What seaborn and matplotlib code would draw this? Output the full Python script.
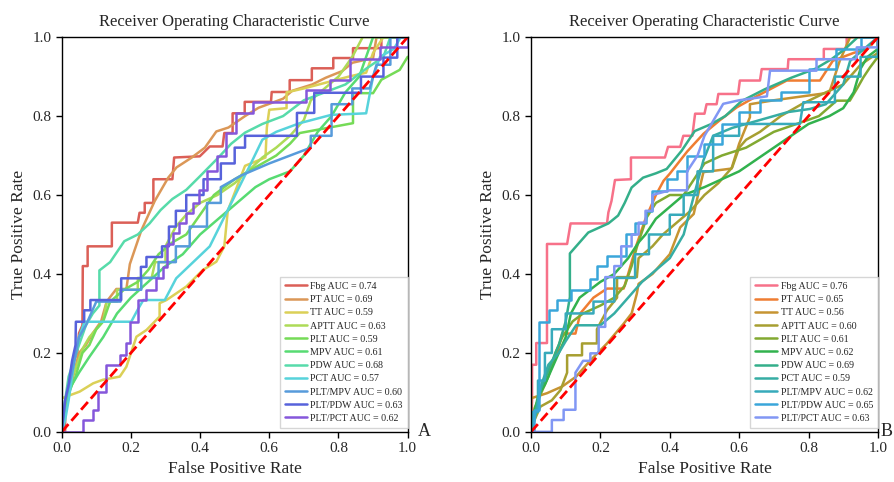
import pandas as pd
import seaborn as sns
import matplotlib.pyplot as plt

labels = ['Fbg', 'PT', 'TT', 'APTT', 'PLT', 'MPV', 'PDW', 'PCT', 'PLT/MPV', 'PLT/PDW', 'PLT/PCT']
auc_a = [0.74, 0.69, 0.59, 0.63, 0.59, 0.61, 0.68, 0.57, 0.60, 0.63, 0.62]
auc_b = [0.76, 0.65, 0.56, 0.60, 0.61, 0.62, 0.69, 0.59, 0.62, 0.65, 0.63]

# panel A curves, (fpr, tpr)
fbg_a = [(0, 0), (0.01, 0), (0.01, 0.06), (0.02, 0.1), (0.03, 0.17), (0.045, 0.2), (0.05, 0.25), (0.06, 0.27),
         (0.061, 0.42), (0.075, 0.42), (0.075, 0.47), (0.145, 0.47), (0.145, 0.53), (0.22, 0.53), (0.225, 0.555),
         (0.24, 0.555), (0.24, 0.58), (0.265, 0.58), (0.265, 0.64), (0.32, 0.64), (0.325, 0.695), (0.399, 0.698),
         (0.428, 0.723), (0.465, 0.723), (0.47, 0.757), (0.494, 0.757), (0.494, 0.807), (0.529, 0.807),
         (0.529, 0.836), (0.605, 0.836), (0.607, 0.861), (0.659, 0.861), (0.659, 0.891), (0.723, 0.891),
         (0.723, 0.921), (0.785, 0.921), (0.785, 0.947), (0.842, 0.947), (0.842, 0.972), (0.924, 0.972),
         (0.924, 1.0), (1.0, 1.0)]
pt_a = [(0, 0), (0.01, 0.05), (0.015, 0.1), (0.03, 0.13), (0.05, 0.2), (0.07, 0.22), (0.09, 0.25), (0.114, 0.28),
        (0.13, 0.33), (0.158, 0.362), (0.187, 0.362), (0.197, 0.425), (0.23, 0.51), (0.269, 0.585), (0.308, 0.644),
        (0.332, 0.67), (0.376, 0.695), (0.414, 0.72), (0.447, 0.761), (0.482, 0.771), (0.53, 0.80), (0.569, 0.821),
        (0.64, 0.844), (0.666, 0.864), (0.724, 0.88), (0.763, 0.897), (0.811, 0.914), (0.84, 0.935), (0.9, 0.947),
        (0.91, 1.0), (1, 1)]
tt_a = [(0, 0), (0, 0.085), (0.052, 0.102), (0.091, 0.123), (0.119, 0.132), (0.168, 0.14), (0.187, 0.165),
        (0.216, 0.241), (0.245, 0.258), (0.283, 0.292), (0.283, 0.326), (0.303, 0.334), (0.36, 0.368),
        (0.408, 0.41), (0.447, 0.431), (0.47, 0.47), (0.48, 0.56), (0.53, 0.674), (0.589, 0.695), (0.593, 0.771),
        (0.60, 0.816), (0.65, 0.82), (0.65, 0.86), (0.70, 0.87), (0.83, 0.90), (0.88, 0.91), (0.9, 0.96),
        (0.93, 1.0), (1, 1)]
aptt_a = [(0, 0), (0.01, 0.06), (0.02, 0.12), (0.04, 0.16), (0.06, 0.21), (0.08, 0.24), (0.1, 0.26), (0.12, 0.28),
          (0.13, 0.33), (0.16, 0.33), (0.16, 0.36), (0.22, 0.36), (0.22, 0.39), (0.26, 0.39), (0.27, 0.43),
          (0.3, 0.43), (0.3, 0.47), (0.33, 0.52), (0.36, 0.55), (0.4, 0.58), (0.45, 0.6), (0.5, 0.63), (0.55, 0.67),
          (0.58, 0.695), (0.62, 0.72), (0.66, 0.75), (0.7, 0.79), (0.72, 0.84), (0.76, 0.87), (0.8, 0.9),
          (0.84, 0.95), (0.87, 1.0), (1, 1)]
plt_a = [(0, 0), (0.01, 0.05), (0.02, 0.1), (0.04, 0.14), (0.06, 0.2), (0.08, 0.22), (0.1, 0.26), (0.12, 0.28),
         (0.14, 0.33), (0.18, 0.36), (0.22, 0.38), (0.25, 0.41), (0.28, 0.45), (0.32, 0.48), (0.36, 0.5),
         (0.4, 0.55), (0.44, 0.6), (0.5, 0.64), (0.56, 0.67), (0.62, 0.7), (0.66, 0.73), (0.688, 0.757),
         (0.842, 0.782), (0.842, 0.858), (0.9, 0.858), (0.924, 0.892), (0.977, 0.917), (1.0, 0.95)]
mpv_a = [(0, 0), (0.01, 0.07), (0.03, 0.12), (0.05, 0.15), (0.08, 0.19), (0.12, 0.24), (0.16, 0.3), (0.2, 0.34),
         (0.25, 0.38), (0.3, 0.42), (0.35, 0.45), (0.4, 0.5), (0.44, 0.53), (0.48, 0.56), (0.52, 0.59),
         (0.56, 0.62), (0.6, 0.64), (0.66, 0.66), (0.7, 0.7), (0.74, 0.76), (0.78, 0.8), (0.82, 0.86),
         (0.86, 0.9), (0.88, 0.95), (0.9, 1.0), (1, 1)]
pdw_a = [(0, 0), (0.01, 0.08), (0.02, 0.14), (0.033, 0.174), (0.05, 0.22), (0.07, 0.27), (0.09, 0.3),
         (0.109, 0.32), (0.109, 0.409), (0.14, 0.43), (0.181, 0.483), (0.22, 0.5), (0.254, 0.528), (0.286, 0.562),
         (0.32, 0.59), (0.36, 0.613), (0.399, 0.647), (0.453, 0.695), (0.49, 0.73), (0.53, 0.758), (0.58, 0.78),
         (0.64, 0.80), (0.7, 0.84), (0.76, 0.86), (0.82, 0.88), (0.88, 0.92), (0.93, 0.95), (0.95, 1.0), (1, 1)]
pct_a = [(0, 0), (0.01, 0.03), (0.02, 0.08), (0.03, 0.14), (0.04, 0.2), (0.05, 0.24), (0.066, 0.279),
         (0.201, 0.279), (0.22, 0.31), (0.236, 0.334), (0.298, 0.334), (0.331, 0.389), (0.428, 0.47),
         (0.543, 0.673), (0.58, 0.74), (0.62, 0.76), (0.688, 0.782), (0.779, 0.803), (0.88, 0.807), (0.90, 0.90),
         (0.92, 0.95), (0.96, 0.97), (0.98, 1.0), (1, 1)]
pltmpv_a = [(0, 0), (0.01, 0.08), (0.03, 0.15), (0.05, 0.24), (0.07, 0.27), (0.09, 0.31), (0.1, 0.33),
            (0.17, 0.33), (0.17, 0.36), (0.23, 0.36), (0.23, 0.39), (0.28, 0.39), (0.28, 0.43), (0.33, 0.43),
            (0.33, 0.47), (0.37, 0.47), (0.37, 0.52), (0.42, 0.52), (0.42, 0.58), (0.46, 0.58), (0.46, 0.62),
            (0.52, 0.65), (0.6, 0.68), (0.66, 0.7), (0.72, 0.72), (0.72, 0.75), (0.78, 0.75), (0.78, 0.83),
            (0.84, 0.83), (0.84, 0.87), (0.89, 0.87), (0.91, 0.93), (0.95, 0.93), (0.95, 1.0), (1, 1)]
pltpdw_a = [(0, 0), (0.005, 0.04), (0.01, 0.08), (0.02, 0.12), (0.03, 0.18), (0.04, 0.22), (0.041, 0.279),
            (0.065, 0.279), (0.065, 0.308), (0.083, 0.308), (0.083, 0.334), (0.172, 0.334), (0.172, 0.389),
            (0.229, 0.389), (0.229, 0.418), (0.245, 0.418), (0.245, 0.443), (0.29, 0.443), (0.29, 0.47),
            (0.31, 0.47), (0.31, 0.52), (0.33, 0.52), (0.33, 0.56), (0.36, 0.56), (0.36, 0.6), (0.41, 0.6),
            (0.41, 0.64), (0.46, 0.64), (0.46, 0.68), (0.5, 0.68), (0.5, 0.72), (0.53, 0.72), (0.53, 0.75),
            (0.68, 0.75), (0.68, 0.808), (0.73, 0.808), (0.73, 0.859), (0.865, 0.859), (0.865, 0.9), (0.93, 0.9),
            (0.93, 0.948), (0.97, 0.948), (0.97, 1.0), (1, 1)]
pltpct_a = [(0, 0), (0.062, 0), (0.062, 0.03), (0.091, 0.03), (0.091, 0.055), (0.106, 0.055), (0.106, 0.1),
            (0.129, 0.1), (0.129, 0.17), (0.168, 0.17), (0.168, 0.194), (0.187, 0.194), (0.187, 0.224),
            (0.197, 0.224), (0.197, 0.279), (0.221, 0.279), (0.221, 0.334), (0.245, 0.334), (0.245, 0.359),
            (0.274, 0.359), (0.274, 0.389), (0.293, 0.389), (0.293, 0.418), (0.303, 0.418), (0.303, 0.477),
            (0.322, 0.477), (0.322, 0.503), (0.34, 0.503), (0.34, 0.528), (0.36, 0.528), (0.36, 0.554),
            (0.379, 0.554), (0.379, 0.579), (0.398, 0.579), (0.398, 0.613), (0.42, 0.613), (0.42, 0.66),
            (0.45, 0.66), (0.45, 0.70), (0.476, 0.70), (0.476, 0.757), (0.505, 0.757), (0.505, 0.807),
            (0.553, 0.807), (0.553, 0.836), (0.707, 0.836), (0.707, 0.866), (0.775, 0.866), (0.775, 0.892),
            (0.832, 0.892), (0.832, 0.944), (0.92, 0.944), (0.92, 0.975), (1.0, 0.975), (1, 1)]

# panel B curves
fbg_b = [(0, 0), (0.003, 0.08), (0.003, 0.17), (0.015, 0.17), (0.015, 0.225), (0.046, 0.225), (0.046, 0.476),
         (0.104, 0.476), (0.114, 0.528), (0.219, 0.528), (0.223, 0.556), (0.232, 0.585), (0.242, 0.638),
         (0.288, 0.64), (0.288, 0.695), (0.386, 0.695), (0.395, 0.722), (0.43, 0.722), (0.439, 0.75),
         (0.465, 0.75), (0.473, 0.806), (0.50, 0.806), (0.506, 0.83), (0.535, 0.83), (0.54, 0.856), (0.597, 0.856),
         (0.602, 0.89), (0.66, 0.89), (0.665, 0.919), (0.74, 0.919), (0.742, 0.944), (0.844, 0.944),
         (0.844, 0.97), (0.91, 0.97), (0.91, 1.0), (1, 1)]
pt_b = [(0, 0), (0.01, 0.04), (0.02, 0.08), (0.035, 0.12), (0.046, 0.148), (0.075, 0.199), (0.09, 0.249),
        (0.128, 0.249), (0.142, 0.30), (0.18, 0.34), (0.219, 0.363), (0.267, 0.363), (0.28, 0.40), (0.305, 0.476),
        (0.33, 0.54), (0.36, 0.6), (0.382, 0.636), (0.40, 0.654), (0.45, 0.71), (0.497, 0.755), (0.545, 0.79),
        (0.593, 0.822), (0.65, 0.85), (0.737, 0.89), (0.833, 0.89), (0.87, 0.94), (0.93, 0.96), (0.97, 0.97),
        (1.0, 1.0)]
tt_b = [(0, 0), (0, 0.085), (0.046, 0.098), (0.09, 0.115), (0.13, 0.14), (0.17, 0.18), (0.219, 0.224),
        (0.267, 0.274), (0.29, 0.30), (0.305, 0.35), (0.31, 0.375), (0.35, 0.40), (0.40, 0.45), (0.43, 0.518),
        (0.469, 0.552), (0.478, 0.587), (0.497, 0.658), (0.578, 0.667), (0.60, 0.73), (0.631, 0.797),
        (0.631, 0.83), (0.70, 0.84), (0.833, 0.856), (0.86, 0.86), (0.89, 0.94), (0.92, 1.0), (1, 1)]
aptt_b = [(0, 0), (0.01, 0.03), (0.027, 0.064), (0.06, 0.08), (0.085, 0.106), (0.104, 0.15), (0.104, 0.194),
          (0.147, 0.194), (0.147, 0.224), (0.19, 0.224), (0.19, 0.26), (0.219, 0.308), (0.248, 0.34),
          (0.248, 0.392), (0.305, 0.392), (0.31, 0.44), (0.35, 0.47), (0.38, 0.5), (0.42, 0.53), (0.46, 0.56),
          (0.5, 0.6), (0.54, 0.63), (0.58, 0.67), (0.6, 0.72), (0.62, 0.74), (0.66, 0.76), (0.72, 0.80),
          (0.78, 0.83), (0.85, 0.86), (0.9, 0.88), (0.95, 0.93), (1, 0.96), (1, 1)]
plt_b = [(0, 0), (0.01, 0.06), (0.03, 0.1), (0.05, 0.14), (0.07, 0.2), (0.09, 0.24), (0.12, 0.28), (0.15, 0.3),
         (0.2, 0.32), (0.24, 0.34), (0.27, 0.37), (0.29, 0.42), (0.305, 0.468), (0.334, 0.544), (0.36, 0.58),
         (0.4, 0.6), (0.44, 0.6), (0.47, 0.64), (0.5, 0.68), (0.55, 0.70), (0.62, 0.72), (0.7, 0.76),
         (0.795, 0.789), (0.83, 0.80), (0.881, 0.839), (0.919, 0.839), (0.94, 0.87), (0.958, 0.898),
         (0.977, 0.923), (1, 0.95), (1, 1)]
mpv_b = [(0, 0), (0.01, 0.05), (0.02, 0.09), (0.04, 0.12), (0.06, 0.16), (0.08, 0.2), (0.1, 0.24), (0.115, 0.3),
         (0.14, 0.34), (0.17, 0.36), (0.2, 0.38), (0.24, 0.4), (0.28, 0.44), (0.31, 0.48), (0.33, 0.5),
         (0.36, 0.54), (0.4, 0.57), (0.44, 0.6), (0.5, 0.62), (0.55, 0.64), (0.6, 0.66), (0.65, 0.69),
         (0.7, 0.72), (0.75, 0.75), (0.8, 0.78), (0.86, 0.8), (0.9, 0.82), (0.93, 0.86), (0.95, 0.92),
         (0.97, 0.95), (1, 0.97), (1, 1)]
pdw_b = [(0, 0), (0.01, 0.04), (0.026, 0.105), (0.05, 0.156), (0.08, 0.22), (0.1, 0.28), (0.112, 0.341),
         (0.112, 0.452), (0.136, 0.476), (0.165, 0.505), (0.223, 0.528), (0.251, 0.548), (0.27, 0.58),
         (0.29, 0.619), (0.323, 0.644), (0.36, 0.655), (0.391, 0.666), (0.434, 0.712), (0.472, 0.762),
         (0.52, 0.78), (0.56, 0.80), (0.607, 0.838), (0.674, 0.868), (0.75, 0.897), (0.82, 0.92), (0.866, 0.944),
         (0.904, 0.969), (0.942, 1.0), (1, 1)]
pct_b = [(0, 0), (0.01, 0.03), (0.02, 0.07), (0.03, 0.12), (0.05, 0.17), (0.08, 0.2), (0.1, 0.23), (0.13, 0.27),
         (0.2, 0.27), (0.24, 0.3), (0.28, 0.34), (0.32, 0.38), (0.36, 0.41), (0.4, 0.44), (0.44, 0.5),
         (0.47, 0.6), (0.497, 0.688), (0.525, 0.75), (0.58, 0.77), (0.66, 0.79), (0.74, 0.81), (0.804, 0.818),
         (0.85, 0.83), (0.9, 0.88), (0.92, 0.94), (0.96, 0.97), (1, 1)]
pltmpv_b = [(0, 0), (0.005, 0.05), (0.02, 0.05), (0.02, 0.13), (0.04, 0.13), (0.04, 0.2), (0.06, 0.2),
            (0.06, 0.26), (0.1, 0.26), (0.1, 0.3), (0.18, 0.3), (0.18, 0.33), (0.24, 0.33), (0.24, 0.39),
            (0.3, 0.39), (0.3, 0.45), (0.34, 0.45), (0.34, 0.5), (0.4, 0.5), (0.4, 0.55), (0.44, 0.55),
            (0.44, 0.6), (0.48, 0.6), (0.48, 0.66), (0.525, 0.66), (0.525, 0.75), (0.6, 0.75), (0.6, 0.78),
            (0.775, 0.78), (0.785, 0.835), (0.876, 0.835), (0.876, 0.9), (0.95, 0.9), (0.95, 0.95), (1, 0.95),
            (1, 1)]
pltpdw_b = [(0, 0), (0.008, 0), (0.008, 0.056), (0.022, 0.056), (0.022, 0.279), (0.051, 0.279), (0.051, 0.308),
            (0.075, 0.308), (0.075, 0.333), (0.114, 0.333), (0.114, 0.36), (0.171, 0.36), (0.171, 0.388),
            (0.19, 0.388), (0.19, 0.42), (0.219, 0.42), (0.219, 0.446), (0.274, 0.446), (0.274, 0.5), (0.3, 0.5),
            (0.3, 0.53), (0.33, 0.53), (0.33, 0.56), (0.349, 0.56), (0.349, 0.611), (0.392, 0.611),
            (0.392, 0.64), (0.42, 0.64), (0.42, 0.66), (0.45, 0.66), (0.45, 0.7), (0.5, 0.7), (0.5, 0.73),
            (0.55, 0.73), (0.55, 0.78), (0.6, 0.78), (0.6, 0.81), (0.66, 0.81), (0.66, 0.84), (0.72, 0.84),
            (0.72, 0.86), (0.8, 0.86), (0.8, 0.92), (0.88, 0.92), (0.88, 0.97), (0.95, 0.97), (0.95, 1.0), (1, 1)]
pltpct_b = [(0, 0), (0.06, 0), (0.06, 0.03), (0.094, 0.03), (0.094, 0.056), (0.128, 0.056), (0.128, 0.15),
            (0.15, 0.18), (0.171, 0.18), (0.171, 0.199), (0.195, 0.199), (0.195, 0.266), (0.214, 0.266),
            (0.214, 0.392), (0.24, 0.392), (0.24, 0.42), (0.26, 0.42), (0.26, 0.47), (0.29, 0.47), (0.29, 0.5),
            (0.31, 0.5), (0.31, 0.53), (0.33, 0.53), (0.33, 0.56), (0.35, 0.56), (0.35, 0.6), (0.4, 0.612),
            (0.45, 0.612), (0.45, 0.66), (0.48, 0.7), (0.5, 0.75), (0.52, 0.78), (0.554, 0.831), (0.6, 0.84),
            (0.68, 0.85), (0.689, 0.915), (0.823, 0.915), (0.823, 0.944), (0.939, 0.944), (0.939, 0.974),
            (1, 0.974), (1, 1)]

curves_a = [fbg_a, pt_a, tt_a, aptt_a, plt_a, mpv_a, pdw_a, pct_a, pltmpv_a, pltpdw_a, pltpct_a]
curves_b = [fbg_b, pt_b, tt_b, aptt_b, plt_b, mpv_b, pdw_b, pct_b, pltmpv_b, pltpdw_b, pltpct_b]


def to_frame(curves, aucs):
    rows = []
    for name, auc, pts in zip(labels, aucs, curves):
        lab = f'{name} AUC = {auc:.2f}'
        for i, (x, y) in enumerate(pts):
            rows.append({'label': lab, 'order': i, 'fpr': x, 'tpr': y})
    return pd.DataFrame(rows)


sns.set_style('ticks')
plt.rcParams['font.family'] = ['Liberation Serif', 'DejaVu Serif']

fig = plt.figure(figsize=(8.94, 4.82), dpi=100)
ax_a = fig.add_axes([0.069, 0.104, 0.387, 0.819])
ax_b = fig.add_axes([0.594, 0.104, 0.388, 0.819])

panels = [(ax_a, curves_a, auc_a, sns.color_palette('hls', 14)[:11], 'A', 1.03),
          (ax_b, curves_b, auc_b, sns.color_palette('husl', 14)[:11], 'B', 1.008)]

for ax, curves, aucs, pal, tag, tag_x in panels:
    df = to_frame(curves, aucs)
    order = list(dict.fromkeys(df['label']))
    sns.lineplot(data=df, x='fpr', y='tpr', hue='label', hue_order=order, palette=pal,
                 estimator=None, sort=False, linewidth=1.8, ax=ax)
    ax.plot([0, 1], [0, 1], color='red', linestyle='--', linewidth=2)
    ax.set_xlim(0, 1)
    ax.set_ylim(0, 1)
    ax.set_xticks([0, 0.2, 0.4, 0.6, 0.8, 1.0])
    ax.set_yticks([0, 0.2, 0.4, 0.6, 0.8, 1.0])
    ax.tick_params(labelsize=11, length=4, width=1, color='black')
    for s in ax.spines.values():
        s.set_color('black')
        s.set_linewidth(1)
    ax.set_title('Receiver Operating Characteristic Curve', fontsize=12, pad=8)
    ax.set_xlabel('False Positive Rate', fontsize=12.5)
    ax.set_ylabel('True Positive Rate', fontsize=12.5)
    ax.legend(loc='lower right', bbox_to_anchor=(1.0, 0.01), borderaxespad=0, fontsize=7.2,
              labelspacing=0.42, handlelength=2.2, handletextpad=0.35, borderpad=0.5,
              frameon=True, fancybox=False, edgecolor='#cccccc')
    ax.text(tag_x, 0.0, tag, transform=ax.transAxes, fontsize=13, ha='left', va='center')

fig.savefig('out.png', dpi=100)
